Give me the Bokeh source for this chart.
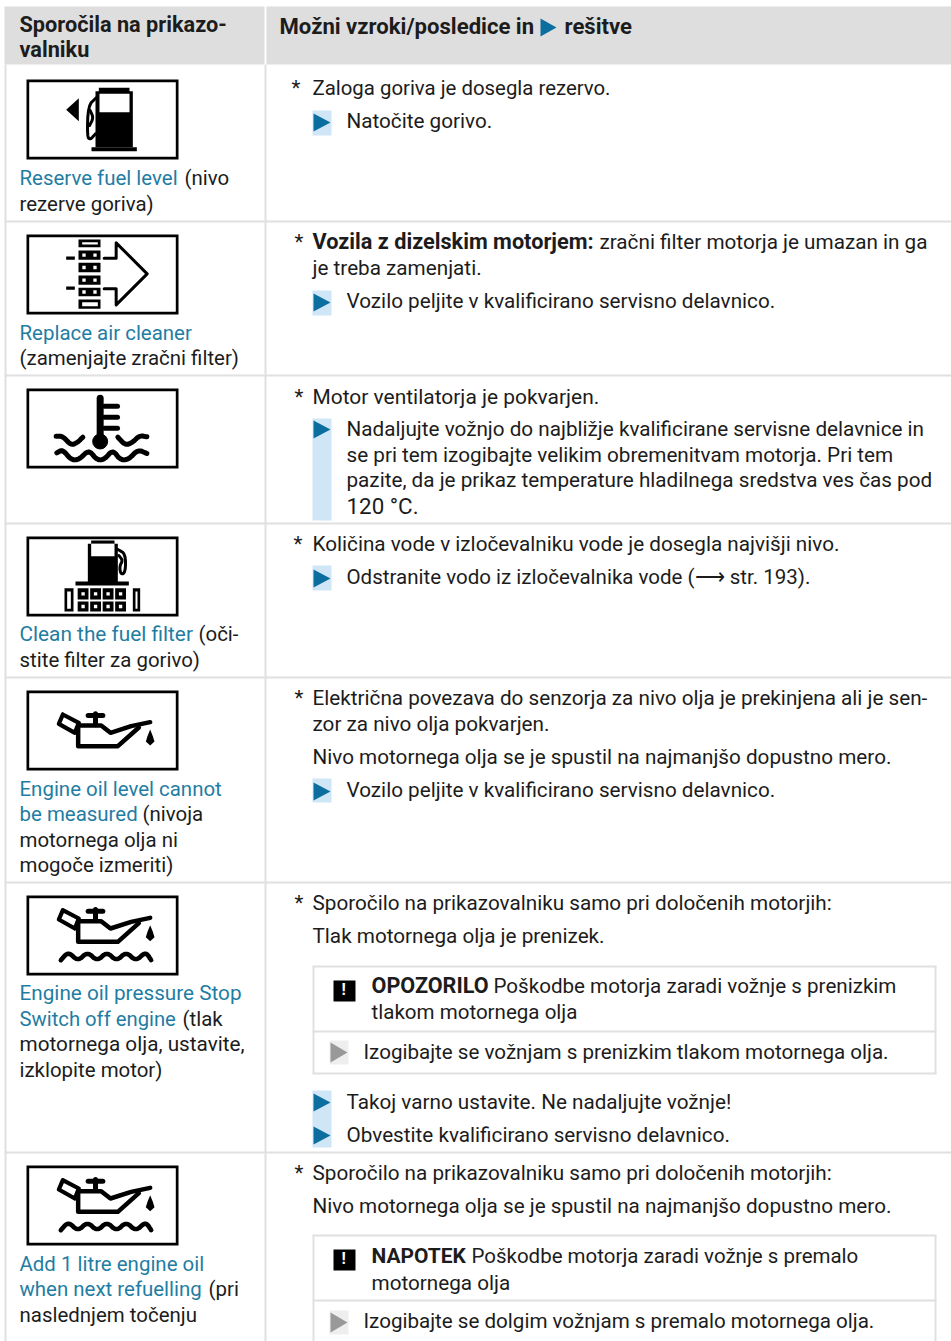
from bokeh.plotting import figure
from bokeh.models import Range1d
from bokeh.embed import file_html
from bokeh.resources import INLINE
from bokeh.core.properties import value

FONT = "Roboto"
SIZE = 20.7
LEFT_SIZE = 20.45
BOLD_SIZE = 21.7
HEAD_RIGHT_SIZE = 22.1
TEXT_DY = -8
INK = "#1c1c1c"
BLUE = "#1f7da3"
TRI = "#0b6e9e"
PALE = "#cfe6f7"
RULE = "#e0e0e0"
HEAD = "#dedede"

HEADER_LEFT = ["Sporočila na prikazo-", "valniku"]
HEADER_RIGHT = ["Možni vzroki/posledice in", "rešitve"]

# left column: (text, style)
LEFT_SEGMENTS = [
    ("Reserve fuel level", "b"), ("(nivo", "k"), ("rezerve goriva)", "k"),
    ("Replace air cleaner", "b"), ("(zamenjajte zračni filter)", "k"),
    ("Clean the fuel filter", "b"), ("(oči-", "k"), ("stite filter za gorivo)", "k"),
    ("Engine oil level cannot", "b"), ("be measured", "b"), ("(nivoja", "k"),
    ("motornega olja ni", "k"), ("mogoče izmeriti)", "k"),
    ("Engine oil pressure Stop", "b"), ("Switch off engine", "b"), ("(tlak", "k"),
    ("motornega olja, ustavite,", "k"), ("izklopite motor)", "k"),
    ("Add 1 litre engine oil", "b"), ("when next refuelling", "b"), ("(pri", "k"),
    ("naslednjem točenju", "k"),
]
LEFT_X = [20, 185, 20, 20, 20, 20, 199, 20, 20, 20, 143, 20, 20, 20, 20, 183, 20, 20, 20, 20, 209, 20]
LEFT_Y = [185, 185, 211, 340, 365, 641, 641, 667, 796, 821, 821, 847, 872, 1000, 1026, 1026, 1051, 1077, 1271, 1296, 1296, 1322]
LEFT_SCALE = {5: 1.017, 13: 1.013, 16: 1.013, 14: 0.99}

RIGHT_TEXT = [
    "Zaloga goriva je dosegla rezervo.", "Natočite gorivo.",
    "Vozila z dizelskim motorjem:", "zračni filter motorja je umazan in ga", "je treba zamenjati.",
    "Vozilo peljite v kvalificirano servisno delavnico.",
    "Motor ventilatorja je pokvarjen.",
    "Nadaljujte vožnjo do najbližje kvalificirane servisne delavnice in",
    "se pri tem izogibajte velikim obremenitvam motorja. Pri tem",
    "pazite, da je prikaz temperature hladilnega sredstva ves čas pod",
    "120 °C.",
    "Količina vode v izločevalniku vode je dosegla najvišji nivo.",
    "Odstranite vodo iz izločevalnika vode (⟶ str. 193).",
    "Električna povezava do senzorja za nivo olja je prekinjena ali je sen-",
    "zor za nivo olja pokvarjen.",
    "Nivo motornega olja se je spustil na najmanjšo dopustno mero.",
    "Vozilo peljite v kvalificirano servisno delavnico.",
    "Sporočilo na prikazovalniku samo pri določenih motorjih:",
    "Tlak motornega olja je prenizek.",
    "OPOZORILO", "Poškodbe motorja zaradi vožnje s prenizkim", "tlakom motornega olja",
    "Izogibajte se vožnjam s prenizkim tlakom motornega olja.",
    "Takoj varno ustavite. Ne nadaljujte vožnje!",
    "Obvestite kvalificirano servisno delavnico.",
    "Sporočilo na prikazovalniku samo pri določenih motorjih:",
    "Nivo motornega olja se je spustil na najmanjšo dopustno mero.",
    "NAPOTEK", "Poškodbe motorja zaradi vožnje s premalo", "motornega olja",
    "Izogibajte se dolgim vožnjam s premalo motornega olja.",
]
RIGHT_X = [313, 347, 313, 600, 313, 347, 313, 347, 347, 347, 347, 313, 347, 313, 313, 313, 347,
           313, 313, 372, 494, 372, 364, 347, 347, 313, 313, 372, 472, 372, 364]
RIGHT_Y = [95, 128, 249, 249, 275, 308, 404, 436, 462, 487, 513, 551, 584, 705, 731, 764, 797,
           910, 943, 993, 993, 1019, 1059, 1109, 1142, 1180, 1213, 1263, 1263, 1290, 1328]
RIGHT_BOLD = {2: 1.0, 19: 0.995, 27: 0.965}
RIGHT_SCALE = {0: 0.985, 6: 1.012, 10: 1.08, 12: 0.992, 20: 0.995, 21: 0.993, 22: 0.994, 28: 0.99, 30: 0.994}

ROW_LINES = [221, 375, 523, 677, 882, 1152]
ASTERISK_X = [292, 295, 295, 294, 295, 295, 295]
ASTERISK_Y = [95, 249, 404, 551, 705, 910, 1180]
ICON_TOPS = [79, 234, 388, 536, 690, 895, 1165]
BAND_TOP = [110, 290, 418, 565, 778, 1090]
BAND_BOTTOM = [135, 315, 520, 590, 802, 1147]
ARROW_Y = [122, 302, 429, 578, 791, 1102, 1135]

p = figure(width=951, height=1341, output_backend="svg", toolbar_location=None,
           x_range=Range1d(1, 952), y_range=Range1d(1341, 0), min_border=0,
           x_axis_location=None, y_axis_location=None,
           outline_line_color=None, background_fill_color="white", border_fill_color="white")
p.grid.visible = False
p.styles = {"position": "absolute", "left": "0px", "top": "0px"}


def T(x, y, s, color=INK, bold=False, size=SIZE, font=FONT):
    p.text([x], [y + TEXT_DY], text=[s], text_color=color, text_font=value(font),
           text_font_size=f"{size}px", text_font_style="bold" if bold else "normal",
           text_baseline="alphabetic", text_align="left")


def box(x0, y0, x1, y1, c):
    p.quad(left=[x0], right=[x1], top=[y0], bottom=[y1], fill_color=c, line_color=None)


def poly(pts, c):
    p.patch([a for a, _ in pts], [b for _, b in pts], fill_color=c, line_color=None)


def stroke(pts, c="black", w=3.0):
    p.line([a for a, _ in pts], [b for _, b in pts], line_color=c, line_width=w,
           line_join="round", line_cap="round")


def smooth(pts, n=3):
    for _ in range(n):
        out = [pts[0]]
        for (a, b), (c, d) in zip(pts, pts[1:]):
            out += [(a * .75 + c * .25, b * .75 + d * .25), (a * .25 + c * .75, b * .25 + d * .75)]
        out.append(pts[-1])
        pts = out
    return pts


def Z(ox, oy):
    return lambda pts: [(ox + a / 3, oy + b / 3) for a, b in pts]


def zbox(z, x0, y0, x1, y1, c="black"):
    (a, b), (d, e) = z([(x0, y0), (x1, y1)])
    box(a, b, d, e, c)


def frame(top):
    box(27, top, 179, top + 80, "black")
    box(29.7, top + 2.7, 176.3, top + 77.3, "white")


def icon_fuel():
    z = Z(0, 0)
    poly(z([(200, 328), (238, 293), (238, 362)]), "black")
    zbox(z, 288, 272, 400, 440)
    zbox(z, 298, 262, 390, 275)
    zbox(z, 300, 280, 390, 335, "white")
    zbox(z, 276, 440, 412, 452)
    stroke(smooth(z([(290, 292), (266, 315), (263, 408), (272, 418), (288, 400)]), 2), w=3)
    stroke(smooth(z([(272, 330), (282, 352), (270, 375)]), 2), w=3)


def cells(z, x0, x1, y0, y1, n, gap=0):
    w = (x1 - x0) / n
    if not gap:
        zbox(z, x0, y0, x1, y1)
    for i in range(n):
        if gap:
            zbox(z, x0 + w * i + gap / 2, y0, x0 + w * (i + 1) - gap / 2, y1)
        cx = x0 + w * (i + 0.5)
        cy = (y0 + y1) / 2
        zbox(z, cx - 5, cy - 5, cx + 5, cy + 5, "white")


def icon_air():
    z = Z(0, 225)
    for y0, y1 in [(42, 65), (222, 250)]:
        zbox(z, 237, y0, 303, y1)
        zbox(z, 248, y0 + 8, 295, y1 - 8, "white")
    for y0, y1 in [(75, 103), (112, 140), (150, 178), (187, 212)]:
        cells(z, 237, 303, y0, y1, 2)
    zbox(z, 200, 93, 226, 103)
    zbox(z, 200, 183, 226, 193)
    stroke(z([(314, 98), (350, 98), (350, 52), (443, 145), (350, 238), (350, 190), (314, 190)]), w=3.0)


def icon_coolant():
    z = Z(0, 225)
    stroke(z([(302, 518), (302, 640)]), w=7)
    for y in (542, 575, 608):
        stroke(z([(315, y), (354, y)]), w=5)
    p.scatter(*map(list, zip(*z([(302, 648)]))), size=15, color="black", marker="circle")
    stroke(smooth(z([(170, 632), (190, 632), (215, 660), (235, 650), (250, 635)])), w=5)
    stroke(smooth(z([(355, 635), (378, 660), (400, 650), (420, 630), (442, 634)])), w=5)
    stroke(smooth(z([(172, 682), (190, 672), (215, 704), (240, 702), (268, 672), (292, 704), (315, 702),
                     (340, 672), (362, 704), (388, 702), (415, 672), (442, 684)])), w=5)


def icon_filter():
    z = Z(0, 525)
    zbox(z, 265, 55, 355, 170)
    zbox(z, 275, 45, 345, 55)
    zbox(z, 275, 55, 345, 92, "white")
    stroke(smooth(z([(355, 72), (378, 85), (378, 140), (364, 148), (360, 122), (370, 105), (358, 90)]), 2), w=3)
    zbox(z, 228, 168, 388, 180)
    cells(z, 232, 382, 188, 222, 4, gap=5)
    cells(z, 232, 382, 228, 258, 4, gap=5)
    for a, b in [(195, 222), (400, 422)]:
        zbox(z, a, 188, b, 258)
        zbox(z, a + 8, 198, b - 8, 250, "white")


def oil(z, dy=0):
    P = lambda pts: z([(a, b + dy) for a, b in pts])
    stroke(P([(190, 567), (238, 592), (226, 622), (178, 595), (190, 567)]), w=4.2)
    stroke(P([(236, 600), (305, 600), (333, 622), (395, 602), (452, 590)]), w=4.5)
    stroke(P([(236, 600), (236, 662), (355, 662), (418, 606)]), w=4.5)
    stroke(P([(288, 565), (288, 598)]), w=5)
    stroke(P([(266, 570), (310, 570)]), w=5)
    poly(P([(452, 612), (460, 632), (465, 648), (452, 660), (439, 648), (444, 632)]), "black")


def waves(z):
    stroke(smooth(z([(184, 224), (207, 198), (235, 228), (264, 198), (293, 228), (322, 198),
                     (351, 228), (380, 198), (409, 228), (438, 198), (455, 224)])), w=4.6)


def icon_oil_level():
    oil(Z(0, 525))


def icon_oil_press():
    z = Z(0, 885)
    oil(z, dy=-493)
    waves(z)


def icon_oil_add():
    z = Z(0, 1155)
    oil(z, dy=-493)
    waves(z)


# table grid
box(5, 6, 265, 64, HEAD)
box(267, 6, 952, 64, HEAD)
box(5, 64, 7, 1341, RULE)
box(265, 64, 267, 1341, RULE)
for y in ROW_LINES:
    box(5, y - 1, 952, y + 1, RULE)

# pale action bands
for a, b in zip(BAND_TOP, BAND_BOTTOM):
    box(313, a, 332, b, PALE)
for y in ARROW_Y:
    poly([(314, y - 9), (331, y), (314, y + 9)], TRI)

# header triangle
poly([(541, 18), (557, 27), (541, 36)], TRI)

# warning boxes
for top, mid, bot in [(966, 1031, 1073), (1235, 1300, 1345)]:
    for yy in (top, mid, bot):
        box(313, yy - 1, 937, yy + 1, RULE)
    box(313, top, 315, bot, RULE)
    box(935, top, 937, bot, RULE)
for top, a in [(980, 1052), (1249, 1322)]:
    box(334, top, 356, top + 21, "black")
    T(342, top + 17, "!", color="white", bold=True, size=16)
    box(330, a - 12, 349, a + 12, "#eeeeee")
    poly([(331, a - 10), (348, a), (331, a + 10)], "#999999")

for t in ICON_TOPS:
    frame(t)
icon_fuel(); icon_air(); icon_coolant(); icon_filter(); icon_oil_level(); icon_oil_press(); icon_oil_add()

# texts
T(20, 32, HEADER_LEFT[0], bold=True, size=BOLD_SIZE)
T(20, 57, HEADER_LEFT[1], bold=True, size=BOLD_SIZE)
T(280, 33, HEADER_RIGHT[0], bold=True, size=HEAD_RIGHT_SIZE)
T(565, 33, HEADER_RIGHT[1], bold=True, size=HEAD_RIGHT_SIZE)
for i, ((s, st), x, y) in enumerate(zip(LEFT_SEGMENTS, LEFT_X, LEFT_Y)):
    T(x, y, s, color=BLUE if st == "b" else INK, size=round(LEFT_SIZE * LEFT_SCALE.get(i, 1), 2))
for i, (s, x, y) in enumerate(zip(RIGHT_TEXT, RIGHT_X, RIGHT_Y)):
    T(x, y, s, bold=i in RIGHT_BOLD,
      size=round(BOLD_SIZE * RIGHT_BOLD[i], 2) if i in RIGHT_BOLD else round(SIZE * RIGHT_SCALE.get(i, 1), 2))
for x, y in zip(ASTERISK_X, ASTERISK_Y):
    T(x, y, "*")

open("out.html", "w").write(file_html(p, INLINE))
